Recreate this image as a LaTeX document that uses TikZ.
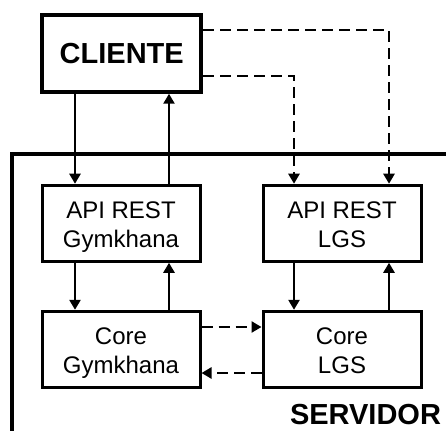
\documentclass[tikz,border=0pt]{standalone}
\usepackage{fontspec}
\setmainfont{Liberation Sans}
\usetikzlibrary{arrows.meta}

% two centred lines with fixed outer height and depth, so that every box
% places its baselines at the same heights whatever letters it holds
\newcommand{\boxlines}[2]{\rule{0pt}{25pt}#1\\#2\rule[-6pt]{0pt}{6pt}}

\tikzset{
  box/.style={draw, line width=3pt, minimum width=158pt, minimum height=76pt,
              inner sep=0pt, align=center, font=\fontsize{24}{29}\selectfont},
  bigbox/.style={draw, line width=4pt, minimum width=159pt, minimum height=77pt,
              inner sep=0pt, font=\bfseries\fontsize{29}{34}\selectfont},
  frame/.style={line width=4pt},
  headtip/.style={-{Triangle[length=10pt,width=11pt]}},
  link/.style={line width=2.4pt, headtip},
  dlink/.style={line width=2.8pt, dash pattern=on 11pt off 6pt},
  darrow/.style={dlink, headtip},
}

\begin{document}
\begin{tikzpicture}[x=1pt,y=-1pt]
\useasboundingbox (0,0) rectangle (446,430);

% server frame, running off the right and bottom edges
\draw[frame] (12,440) -- (12,154) -- (456,154);
\node[anchor=base, inner sep=0pt, font=\bfseries\fontsize{29}{34}\selectfont] (srv) at (365.5,424) {SERVIDOR};

% components
\node[bigbox] (cli) at (121.75,53.25) {CLIENTE};
\node[box] (apig) at (121,223.25) {\boxlines{API REST}{Gymkhana}};
\node[box] (apil) at (342,223.25) {\boxlines{API REST}{LGS}};
\node[box] (coreg) at (121,349.3) {\boxlines{Core}{Gymkhana}};
\node[box] (corel) at (342,349.3) {\boxlines{Core}{LGS}};

% connector columns and rows
\coordinate (c1) at (75,0);
\coordinate (c2) at (169,0);
\coordinate (c3) at (294,0);
\coordinate (c4) at (389,0);
\coordinate (r1) at (0,30);
\coordinate (r2) at (0,76);
\coordinate (h1) at (0,327);
\coordinate (h2) at (0,373);

% client <-> Gymkhana API
\draw[link] (cli.south -| c1) -- (apig.north -| c1);
\draw[link] (apig.north -| c2) -- (cli.south -| c2);

% client -> LGS API (dashed)
\draw[darrow] (cli.east |- r2) -| (apil.north -| c3);
\draw[darrow] (cli.east |- r1) -| (apil.north -| c4);

% API <-> Core
\draw[link] (apig.south -| c1) -- (coreg.north -| c1);
\draw[link] (coreg.north -| c2) -- (apig.south -| c2);
\draw[link] (apil.south -| c3) -- (corel.north -| c3);
\draw[link] (corel.north -| c4) -- (apil.south -| c4);

% Core <-> Core (dashed)
\draw[darrow] (coreg.east |- h1) -- (corel.west |- h1);
\draw[darrow] (corel.west |- h2) -- (coreg.east |- h2);
\end{tikzpicture}
\end{document}
